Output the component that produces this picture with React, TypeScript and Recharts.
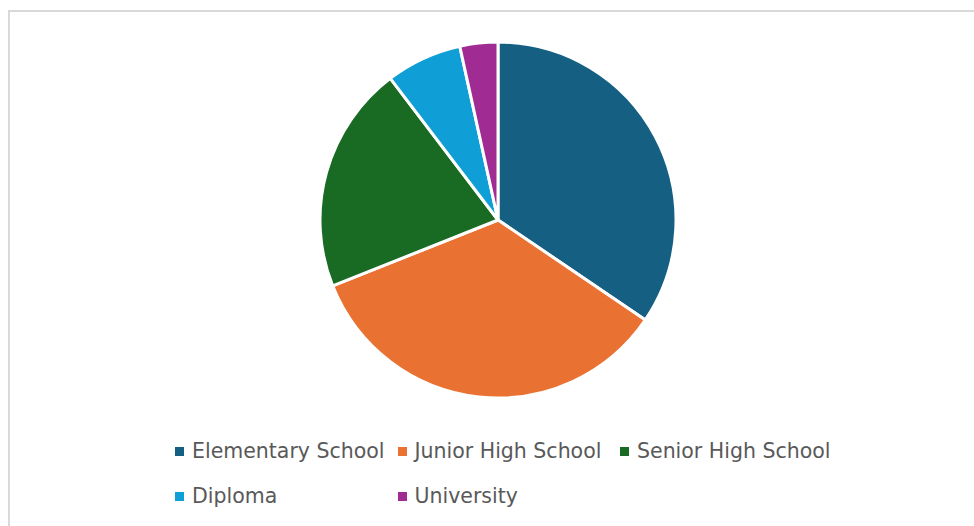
import { PieChart, Pie, Cell, Legend } from 'recharts'

const categories = ['Elementary School', 'Junior High School', 'Senior High School', 'Diploma', 'University']
const counts = [10, 10, 6, 2, 1]
const COLORS = ['#156082', '#E97132', '#196B24', '#0F9ED5', '#A02B93']

const data = categories.map((name, i) => ({ name, value: counts[i] }))

function LegendGrid() {
  return (
    <div style={{ position: 'relative', width: 964, height: 90 }}>
      {categories.map((name, i) => {
        const col = i % 3
        const row = Math.floor(i / 3)
        return (
          <div
            key={name}
            style={{
              position: 'absolute',
              left: 165 + col * 222.5,
              top: row * 45,
              height: 24,
              display: 'flex',
              alignItems: 'center',
              whiteSpace: 'nowrap',
            }}
          >
            <span style={{ width: 9, height: 9, background: COLORS[i], display: 'inline-block', marginRight: 8 }} />
            <span style={{ fontFamily: '"DejaVu Sans", sans-serif', fontSize: 20.5, color: '#595959' }}>{name}</span>
          </div>
        )
      })}
    </div>
  )
}

export default function App() {
  return (
    <div
      style={{
        position: 'absolute',
        left: 8,
        top: 10,
        width: 966,
        height: 516,
        boxSizing: 'border-box',
        borderTop: '2px solid #d9d9d9',
        borderLeft: '2px solid #d9d9d9',
        background: '#fff',
      }}
    >
      <PieChart width={964} height={514}>
        <Pie
          data={data}
          dataKey="value"
          nameKey="name"
          cx={483}
          cy={203}
          outerRadius={178}
          startAngle={90}
          endAngle={-270}
          stroke="#ffffff"
          strokeWidth={3}
          isAnimationActive={false}
        >
          {data.map((_, i) => (
            <Cell key={i} fill={COLORS[i]} />
          ))}
        </Pie>
        <Legend content={() => <LegendGrid />} wrapperStyle={{ top: 427, left: 0, width: 964 }} />
      </PieChart>
    </div>
  )
}
